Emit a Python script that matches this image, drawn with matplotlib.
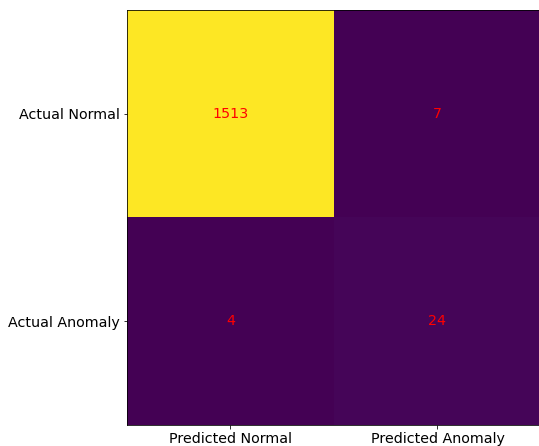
import numpy as np
import matplotlib
matplotlib.use('Agg')
import matplotlib.pyplot as plt

# confusion matrix values
row_labels = ['Actual Normal', 'Actual Anomaly']
col_labels = ['Predicted Normal', 'Predicted Anomaly']
counts = [[1513, 7],
          [4, 24]]

cm = np.array(counts)

W, H = 539, 446
fig = plt.figure(figsize=(W / 72, H / 72), dpi=72)
# axes extends slightly past the right edge, as in the reference
ax = fig.add_axes([127 / W, 1 - 425 / H, 414 / W, 415 / H])
ax.imshow(cm, cmap='viridis', aspect='auto')

fs = 14.3
ax.set_xticks(range(len(col_labels)))
ax.set_xticklabels(col_labels, fontsize=fs)
ax.set_yticks(range(len(row_labels)))
ax.set_yticklabels(row_labels, fontsize=fs)

for i in range(cm.shape[0]):
    for j in range(cm.shape[1]):
        ax.text(j, i, str(cm[i, j]), ha='center', va='center', color='red', fontsize=fs)

fig.savefig('out.png', dpi=72)
